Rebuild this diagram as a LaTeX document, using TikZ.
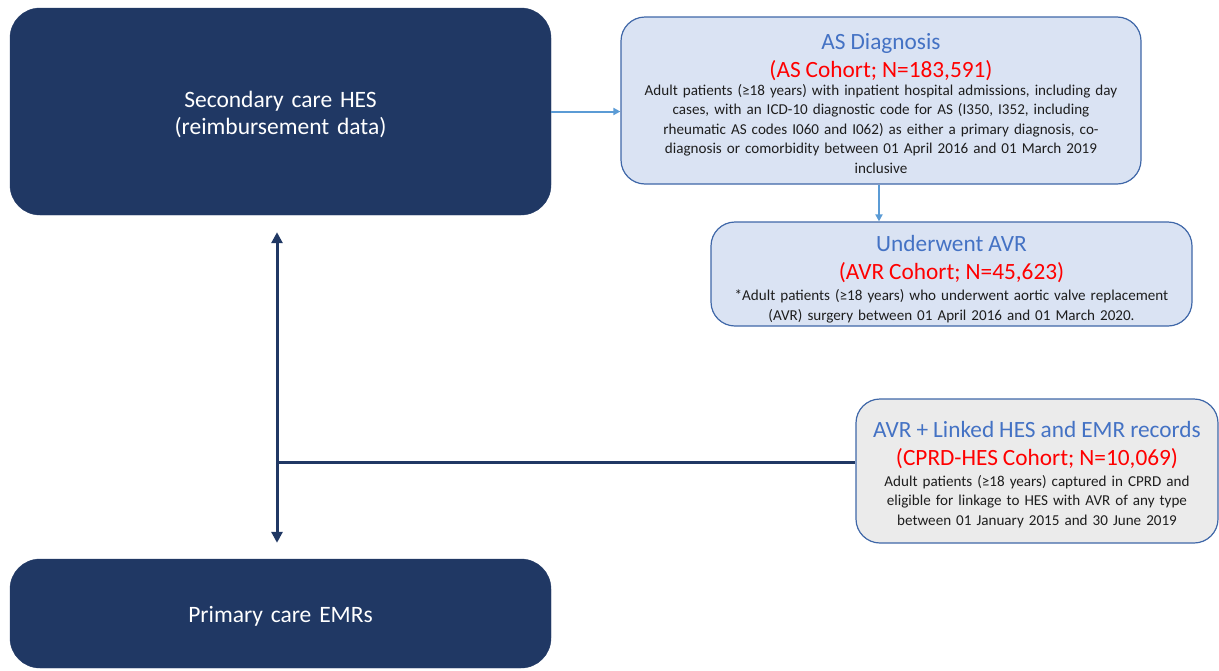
\documentclass[tikz,border=0pt]{standalone}
\usepackage{fontspec}
\setmainfont{Carlito}
\usetikzlibrary{arrows.meta}
\definecolor{navy}{HTML}{203864}
\definecolor{lbfill}{HTML}{DAE3F3}
\definecolor{lbborder}{HTML}{3F67A8}
\definecolor{titleblue}{HTML}{4472C4}
\definecolor{arrblue}{HTML}{5B9BD5}
\definecolor{grfill}{HTML}{EBEBEB}
\definecolor{bodytxt}{HTML}{1E1E1E}
\newcommand{\ttlfont}{\fontsize{23.3}{28}\selectfont\color{titleblue}}
\newcommand{\redfont}{\fontsize{23.3}{28}\selectfont\color{red}}
\newcommand{\bodyfont}{\fontsize{15.1}{19.5}\selectfont\color{bodytxt}}
\newcommand{\ttlline}[1]{{\ttlfont #1\par}}
\newcommand{\redline}[1]{{\redfont #1\par}}
\newcommand{\bodyline}[1]{{\bodyfont #1\par}}
\tikzset{
  darkbox/.style={draw=navy, fill=navy, rounded corners=30pt, text=white, align=center, inner sep=0pt,
    text width=500pt, font=\fontsize{23.5}{27}\selectfont},
  lightbox/.style={draw=lbborder, line width=1.2pt, rounded corners=24pt, align=center, inner sep=0pt,
    font=\bodyfont},
  bluearr/.style={draw=arrblue, line width=2pt, -{Triangle[length=7pt,width=7pt]}},
  navyline/.style={draw=navy, line width=3pt},
  navyarr/.style={navyline, {Triangle[length=11pt,width=11pt]}-{Triangle[length=11pt,width=11pt]}}
}
\begin{document}
\lineskiplimit=-1000pt
\parindent=0pt
\parskip=0pt
\begin{tikzpicture}[x=1pt,y=-1pt]
\useasboundingbox (0,0) rectangle (1219,670);
\node[darkbox, minimum width=541pt, minimum height=207pt] (hes) at (280.5,111.5)
  {\vskip-4pt Secondary care HES\par (reimbursement data)\par};
\node[darkbox, minimum width=541pt, minimum height=109pt] (pc) at (280.5,613.5)
  {\vskip-6pt Primary care EMRs\par};
\node[lightbox, fill=lbfill, minimum width=520pt, minimum height=167pt, text width=510pt] (as) at (881,100.5)
  {\vskip-6pt
   \ttlline{AS Diagnosis}
   \redline{(AS Cohort; N=183,591)}
   \vskip-1.5pt
   \bodyline{Adult patients (≥18 years) with inpatient hospital admissions, including day}
   \bodyline{cases, with an ICD-10 diagnostic code for AS (I350, I352, including}
   \bodyline{rheumatic AS codes I060 and I062) as either a primary diagnosis, co-}
   \bodyline{diagnosis or comorbidity between 01 April 2016 and 01 March 2019}
   \bodyline{inclusive}};
\node[lightbox, fill=lbfill, minimum width=481pt, minimum height=104pt, text width=470pt] (avr) at (951.5,274)
  {\vskip-2pt
   \ttlline{Underwent AVR}
   \redline{(AVR Cohort; N=45,623)}
   \vskip2pt
   \bodyline{*Adult patients (≥18 years) who underwent aortic valve replacement}
   \bodyline{(AVR) surgery between 01 April 2016 and 01 March 2020.}};
\node[lightbox, fill=grfill, minimum width=362pt, minimum height=144pt, text width=356pt] (cprd) at (1037,471)
  {\vskip-5pt
   \ttlline{AVR + Linked HES and EMR records}
   \redline{(CPRD-HES Cohort; N=10,069)}
   \vskip1.5pt
   \bodyline{Adult patients (≥18 years) captured in CPRD and}
   \bodyline{eligible for linkage to HES with AVR of any type}
   \bodyline{between 01 January 2015 and 30 June 2019}};
\coordinate (vx) at (277,0);
\draw[bluearr] (hes.east) -- (hes.east -| as.west);
\draw[bluearr] (as.south -| 879,0) -- (avr.north -| 879,0);
\draw[navyarr, shorten <=17pt, shorten >=16pt] (hes.south -| vx) -- (pc.north -| vx);
\draw[navyline] ([yshift=9pt]cprd.west -| vx) -- ([yshift=9pt]cprd.west);
\end{tikzpicture}
\end{document}
